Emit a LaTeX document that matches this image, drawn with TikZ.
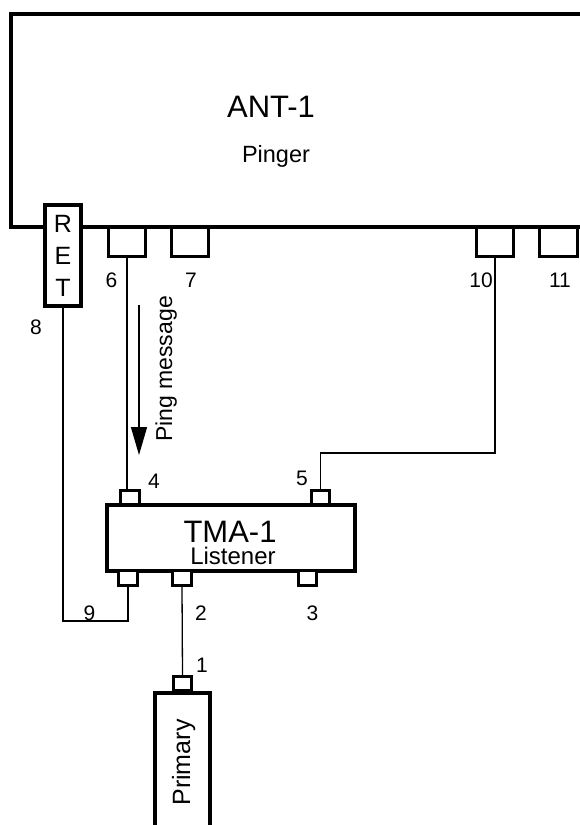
\documentclass[tikz,border=0pt]{standalone}
\usepackage{fontspec}
\setmainfont{Liberation Sans}
\usetikzlibrary{arrows.meta}

\newcommand*{\portrow}{241.5}
\newcommand*{\toprow}{497.5}
\newcommand*{\botrow}{578}

\begin{document}
\begin{tikzpicture}
[
	x=1pt, y=-1pt,
	unit/.style={rectangle,draw,line width=4pt,inner sep=0pt},
	bigport/.style={rectangle,draw,line width=3pt,inner sep=0pt,minimum width=37.5pt,minimum height=29pt},
	smallport/.style={rectangle,draw,fill=white,line width=3pt,inner sep=0pt,minimum width=18.5pt,minimum height=14.5pt},
	wire/.style={line width=1.3pt},
	numlbl/.style={inner sep=0pt,text height=15pt,text depth=0pt,font=\fontsize{21}{21}\selectfont},
	title/.style={inner sep=0pt,text height=22pt,text depth=0pt,font=\fontsize{31}{31}\selectfont},
	subtitle/.style={inner sep=0pt,text height=16.5pt,text depth=0pt,font=\fontsize{23.5}{23.5}\selectfont}
]
	\useasboundingbox (0,0) rectangle (580,825);

	% pinger unit
	\node[unit,minimum width=589.5pt,minimum height=213pt] (ant) at (305.25,120.5) {};
	\node[title] (anttitle) at (271,106.5) {ANT-1};
	\node[subtitle] (antsub) at (276,154.5) {Pinger};

	\node[bigport] at (127,\portrow) (p6) {};
	\node[bigport] at (190,\portrow) (p7) {};
	\node[bigport] at (495,\portrow) (p10) {};
	\node[bigport] at (558.5,\portrow) (p11) {};

	\node[unit,fill=white,minimum width=36pt,minimum height=101pt,align=center,font=\fontsize{25}{32}\selectfont] at (63,255.5) (ret) {R\\E\\T};

	\node[numlbl] at (111.5,279.5) {6};
	\node[numlbl] at (191,279.5) {7};
	\node[numlbl] at (481,279.5) {10};
	\node[numlbl] at (560,279.5) {11};
	\node[numlbl] at (36,327) {8};

	% listener unit
	\node[unit,line width=3.5pt,minimum width=248pt,minimum height=66pt] (tma) at (231,538) {};
	\node[title] (tmatitle) at (230,531) {TMA-1};
	\node[subtitle,font=\fontsize{24}{24}\selectfont] (tmasub) at (233,556) {Listener};

	\node[smallport] at (130,\toprow) (p4) {};
	\node[smallport] at (320.5,\toprow) (p5) {};
	\node[smallport] at (128,\botrow) (p9) {};
	\node[smallport] at (182,\botrow) (p2) {};
	\node[smallport] at (307.5,\botrow) (p3) {};

	\node[numlbl] at (154,481) {4};
	\node[numlbl] at (302,477.5) {5};
	\node[numlbl] at (89.5,613) {9};
	\node[numlbl] at (201,612.5) {2};
	\node[numlbl] at (312.5,612.5) {3};

	% primary unit
	\node[unit,minimum width=55pt,minimum height=200pt,anchor=north] at (182,691) (prim) {};
	\node[smallport] at (182.5,683.5) (p1) {};
	\node[numlbl] at (202,664.5) {1};
	\node[rotate=90,inner sep=0pt,text height=18pt,text depth=0pt,font=\fontsize{25}{25}\selectfont] at (181,762.5) (primlbl) {Primary};

	% wiring
	\coordinate (k10) at (495,453);
	\coordinate (k9) at (63,621);
	\draw[wire] (p6.south) -- (p6.south |- p4.north);
	\draw[wire] (p10.south) -- (k10) -| (p5.north);
	\draw[wire] (ret.south) -- (k9) -| (p9.south);
	\draw[wire] (p2.south) -- (p1.north);

	% message
	\coordinate (pingfrom) at (139,305);
	\coordinate (pingto) at (139,455);
	\draw[wire,-{Triangle[length=28pt,width=16pt]}] (pingfrom) -- (pingto);
	\node[rotate=90,inner sep=0pt,text height=16pt,text depth=0pt,font=\fontsize{23}{23}\selectfont] at (164,369) (pinglbl) {Ping message};

\end{tikzpicture}
\end{document}
